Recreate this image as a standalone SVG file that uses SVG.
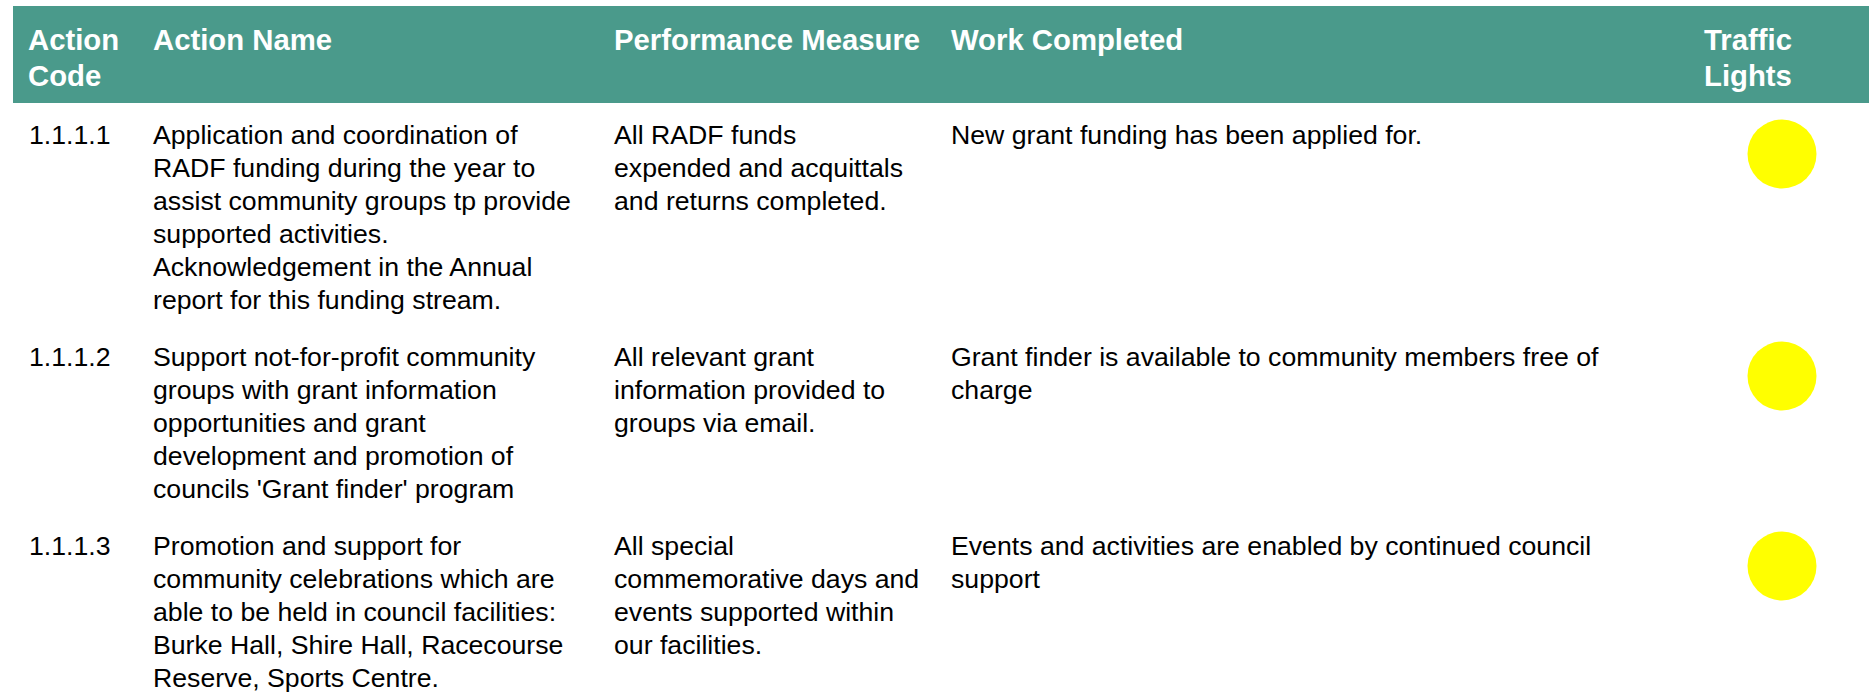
<svg xmlns="http://www.w3.org/2000/svg" width="1869" height="693" viewBox="0 0 1869 693">
<style>
.hd{font-family:"Liberation Sans",Arial,sans-serif;font-size:29.3px;font-weight:bold;fill:#ffffff}
.tx{font-family:"Liberation Sans",Arial,sans-serif;font-size:26.67px;fill:#000000}
.light{fill:#ffff00}
</style>
<rect x="0" y="0" width="1869" height="693" fill="#ffffff"/>
<g id="header">
<rect x="13" y="6" width="1856" height="97" fill="#4a9a8b"/>
<text class="hd" x="28" y="50">Action</text>
<text class="hd" x="28" y="86">Code</text>
<text class="hd" x="153" y="50">Action Name</text>
<text class="hd" x="614" y="50">Performance Measure</text>
<text class="hd" x="951" y="50">Work Completed</text>
<text class="hd" x="1704" y="50">Traffic</text>
<text class="hd" x="1704" y="86">Lights</text>
</g>
<g id="row1">
<text class="tx" x="29" y="143.5">1.1.1.1</text>
<text class="tx" x="153" y="143.5">Application and coordination of</text>
<text class="tx" x="153" y="176.5">RADF funding during the year to</text>
<text class="tx" x="153" y="209.5">assist community groups tp provide</text>
<text class="tx" x="153" y="242.5">supported activities.</text>
<text class="tx" x="153" y="275.5">Acknowledgement in the Annual</text>
<text class="tx" x="153" y="308.5">report for this funding stream.</text>
<text class="tx" x="614" y="143.5">All RADF funds</text>
<text class="tx" x="614" y="176.5">expended and acquittals</text>
<text class="tx" x="614" y="209.5">and returns completed.</text>
<text class="tx" x="951" y="143.5">New grant funding has been applied for.</text>
<circle class="light" cx="1782" cy="154" r="34.5"/>
</g>
<g id="row2">
<text class="tx" x="29" y="366">1.1.1.2</text>
<text class="tx" x="153" y="366">Support not-for-profit community</text>
<text class="tx" x="153" y="399">groups with grant information</text>
<text class="tx" x="153" y="432">opportunities and grant</text>
<text class="tx" x="153" y="465">development and promotion of</text>
<text class="tx" x="153" y="498">councils 'Grant finder' program</text>
<text class="tx" x="614" y="366">All relevant grant</text>
<text class="tx" x="614" y="399">information provided to</text>
<text class="tx" x="614" y="432">groups via email.</text>
<text class="tx" x="951" y="366">Grant finder is available to community members free of</text>
<text class="tx" x="951" y="399">charge</text>
<circle class="light" cx="1782" cy="376" r="34.5"/>
</g>
<g id="row3">
<text class="tx" x="29" y="555">1.1.1.3</text>
<text class="tx" x="153" y="555">Promotion and support for</text>
<text class="tx" x="153" y="588">community celebrations which are</text>
<text class="tx" x="153" y="621">able to be held in council facilities:</text>
<text class="tx" x="153" y="654">Burke Hall, Shire Hall, Racecourse</text>
<text class="tx" x="153" y="687">Reserve, Sports Centre.</text>
<text class="tx" x="614" y="555">All special</text>
<text class="tx" x="614" y="588">commemorative days and</text>
<text class="tx" x="614" y="621">events supported within</text>
<text class="tx" x="614" y="654">our facilities.</text>
<text class="tx" x="951" y="555">Events and activities are enabled by continued council</text>
<text class="tx" x="951" y="588">support</text>
<circle class="light" cx="1782" cy="566" r="34.5"/>
</g>
<g id="connectors"/>
</svg>
